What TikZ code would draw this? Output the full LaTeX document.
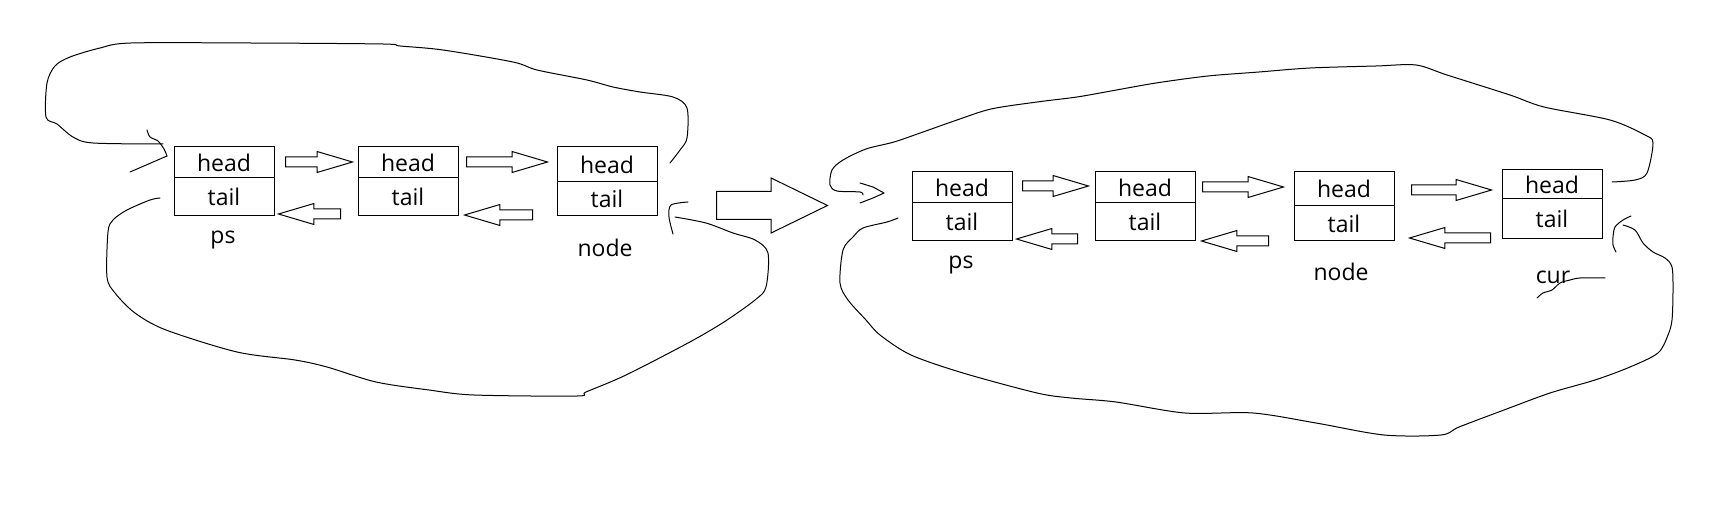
\documentclass[tikz,border=0pt]{standalone}
\usepackage{fontspec}
\setmainfont{Open Sans}
\usetikzlibrary{positioning,shapes.arrows}

\tikzset{
    cell/.style = {draw, line width=1pt, minimum width=100pt, inner sep=0pt, outer sep=0pt,
                   font=\fontsize{23}{27}\selectfont},
    tag/.style = {font=\fontsize{23}{27}\selectfont, inner sep=0pt},
    fwd/.style = {single arrow, draw, line width=1pt, inner xsep=0pt, inner ysep=4.5pt,
                  single arrow head extend=5.5pt, single arrow tip angle=33, anchor=tail},
    back/.style = {fwd, shape border rotate=180},
    hand/.style = {line width=1pt, line cap=round, line join=round},
}

\begin{document}
\begin{tikzpicture}[x=1pt, y=-1pt]
    \useasboundingbox (0,0) rectangle (1714,529);

    % left list
    \node[cell, minimum height=31pt] (lpsh) at (224,162.5) {head};
    \node[cell, minimum height=38pt, below=0pt of lpsh] (lpst) {tail};
    \node[cell, minimum height=31pt] (lmidh) at (408,162.5) {head};
    \node[cell, minimum height=38pt, below=0pt of lmidh] (lmidt) {tail};
    \node[cell, minimum height=35pt] (lnodeh) at (607,164.5) {head};
    \node[cell, minimum height=34pt, below=0pt of lnodeh] (lnodet) {tail};
    \node[tag] (lps) at (223,240) {ps};
    \node[tag] (lnode) at (605,248) {node};

    \node[fwd, minimum height=67pt] (lf1) at (285,162) {};
    \node[fwd, minimum height=81pt] (lf2) at (466,162) {};
    \node[back, minimum height=62pt] (lb1) at (341,214) {};
    \node[back, minimum height=68pt] (lb2) at (533,215) {};

    % the big one in the middle
    \node[single arrow, draw, line width=1pt, inner xsep=0pt, inner ysep=13.5pt,
          single arrow head extend=13.5pt, single arrow tip angle=52, anchor=tail,
          minimum height=111pt] (step1) at (716,205.5) {};

    % right list
    \node[cell, minimum height=31pt] (rpsh) at (962,187.5) {head};
    \node[cell, minimum height=38pt, below=0pt of rpsh] (rpst) {tail};
    \node[cell, minimum height=31pt] (rmidh) at (1145,187.5) {head};
    \node[cell, minimum height=38pt, below=0pt of rmidh] (rmidt) {tail};
    \node[cell, minimum height=34pt] (rnodeh) at (1344,189) {head};
    \node[cell, minimum height=35pt, below=0pt of rnodeh] (rnodet) {tail};
    \node[cell, minimum height=29pt] (rcurh) at (1552,184.5) {head};
    \node[cell, minimum height=40pt, below=0pt of rcurh] (rcurt) {tail};
    \node[tag] (rps) at (961,265) {ps};
    \node[tag] (rnode) at (1341,272) {node};
    \node[tag] (rcur) at (1553,277) {cur};

    \node[fwd, minimum height=66pt] (rf1) at (1022,186) {};
    \node[fwd, minimum height=81pt] (rf2) at (1202,187) {};
    \node[fwd, minimum height=80pt] (rf3) at (1411,190) {};
    \node[back, minimum height=61pt] (rb1) at (1078,239) {};
    \node[back, minimum height=67pt] (rb2) at (1269,241) {};
    \node[back, minimum height=81pt] (rb3) at (1491,238) {};

    % hand drawn loops, left
    \coordinate (l1s) at (670,163);
    \coordinate (l1e) at (163,144);
    \coordinate (ltip) at (167,156);
    \coordinate (l2s) at (160,198);
    \coordinate (l2e) at (675,217);
    \draw[hand] plot[smooth, tension=.5] coordinates {(l1s) (680,150) (687,138) (687,108) (673,97)
        (640,92) (613,87) (587,80) (537,70) (513,62) (443,50) (400,46) (383,44) (250,43) (131,43)
        (100,48) (70,57) (55,66) (47,83) (46,117) (57,124) (73,137) (93,143) (l1e)};
    \draw[hand] plot[smooth, tension=.5] coordinates {(147,130) (150,137) (158,141) (164,149) (ltip)};
    \draw[hand] (ltip) -- (130,172);
    \draw[hand] plot[smooth, tension=.5] coordinates {(l2s) (150,200) (127,210) (113,220) (108,232)
        (107,277) (115,293) (135,313) (166,330) (237,352) (295,360) (327,367) (376,382) (429,390)
        (474,395) (577,396) (586,392) (626,375) (688,343) (724,322) (755,300) (766,287) (768,253)
        (755,240) (733,233) (706,223) (l2e)};
    \draw[hand] plot[smooth, tension=.5] coordinates {(688,202) (671,205) (669,217) (673,234)};

    % hand drawn loops, right
    \coordinate (r1s) at (1612,182);
    \coordinate (r1e) at (863,195);
    \coordinate (rtip) at (884,193);
    \coordinate (r2s) at (898,218);
    \coordinate (r2e) at (1623,225);
    \draw[hand] plot[smooth, tension=.5] coordinates {(r1s) (1635,180) (1647,173) (1653,143)
        (1645,135) (1610,120) (1544,107) (1510,95) (1447,75) (1416,65) (1376,66) (1310,68)
        (1259,72) (1208,76) (1156,83) (1111,91) (1077,97) (1037,102) (991,109) (957,120) (923,132)
        (894,142) (866,149) (843,160) (832,170) (830,185) (837,191) (860,192) (r1e)};
    \draw[hand] (860,183) -- (873,187) -- (rtip) -- (873,198) -- (860,203);
    \draw[hand] plot[smooth, tension=.5] coordinates {(r2s) (887,222) (863,228) (853,237) (843,250)
        (840,283) (848,300) (866,320) (880,335) (911,355) (963,373) (1037,393) (1071,398)
        (1116,402) (1185,413) (1253,413) (1316,423) (1384,435) (1441,435) (1459,427) (1504,410)
        (1550,393) (1595,380) (1630,367) (1658,353) (1668,335) (1672,320) (1673,290) (1672,267)
        (1665,258) (1653,252) (1643,243) (1635,230) (r2e)};
    \draw[hand] plot[smooth, tension=.5] coordinates {(1631,216) (1623,220) (1615,227) (1613,237)
        (1613,245) (1616,252)};
    \draw[hand] plot[smooth, tension=.5] coordinates {(1537,298) (1543,293) (1552,290) (1560,283)
        (1570,280) (1580,278) (1605,278)};

\end{tikzpicture}
\end{document}
